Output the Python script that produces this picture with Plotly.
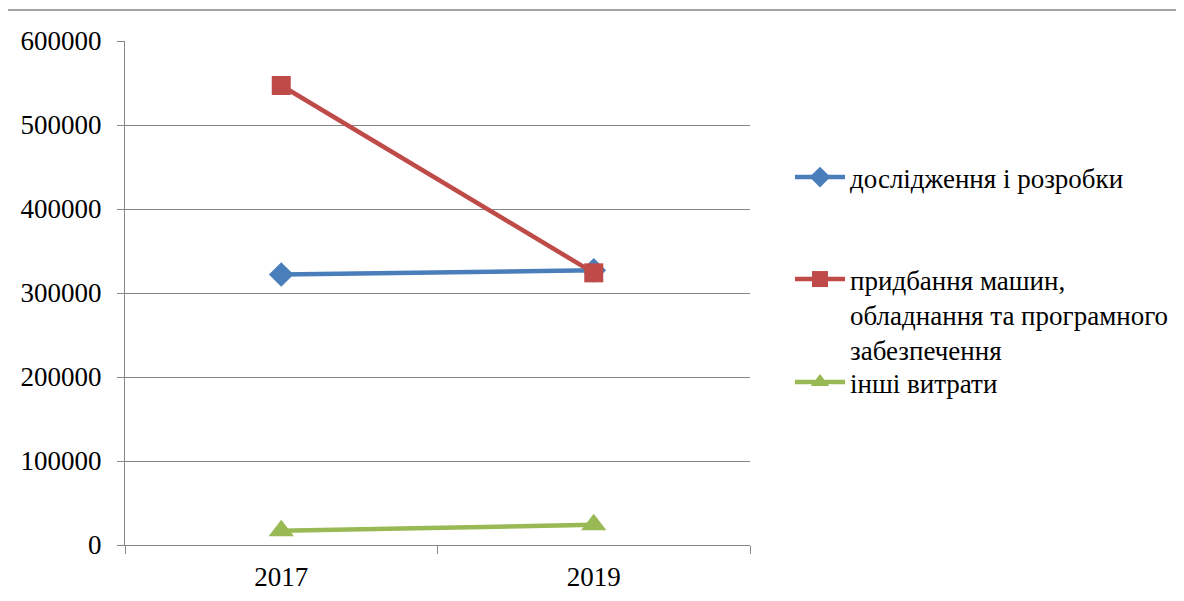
import plotly.graph_objects as go

years = ["2017", "2019"]
rnd = [322000, 327000]
equipment = [547000, 324000]
other = [17000, 24000]

names = ["дослідження і розробки",
         "придбання машин,<br>обладнання та програмного<br>забезпечення",
         "інші витрати"]
colors = ["#4A7EBB", "#BE4B48", "#98B954"]
symbols = ["diamond", "square", "triangle-up"]
sizes = [19, 19, 22]
series = [rnd, equipment, other]

OFF = 8  # page body margin
W, H = 1184, 601
L, R, T, B = 125 - OFF, 750 - OFF, 41 - OFF, 545 - OFF
pw, ph = R - L, B - T
def px(x): return (x - OFF - L) / pw
def py(y): return (B - (y - OFF)) / ph

fig = go.Figure()
legend_names = ["legend", "legend2", "legend3"]
legend_y = [178, 280, 383]
for i in range(3):
    fig.add_trace(go.Scatter(
        x=years, y=series[i], name=names[i], mode="lines+markers",
        line=dict(color=colors[i], width=4.5),
        marker=dict(symbol=symbols[i], size=sizes[i], color=colors[i]),
        legend=legend_names[i], cliponaxis=False))

font = "Liberation Serif"
FS = 27
lay = {}
for i in range(3):
    lay[legend_names[i]] = dict(
        font=dict(family=font, size=FS, color="#000000"),
        bgcolor="rgba(0,0,0,0)", valign="top",
        xanchor="left", yanchor="top", itemwidth=50,
        x=px(790), y=py(legend_y[i] - 25))

fig.update_layout(
    width=W, height=H,
    margin=dict(l=L, r=W - R, t=T, b=H - B),
    plot_bgcolor="white", paper_bgcolor="white",
    font=dict(family=font, size=FS, color="#000000"),
    showlegend=True,
    xaxis=dict(type="category", tickson="boundaries", ticks="outside", ticklen=8,
               tickcolor="#868686", showline=True, linecolor="#868686", linewidth=1,
               showgrid=False, tickfont=dict(family=font, size=FS), range=[-0.5, 1.5],
               ticklabelstandoff=8, fixedrange=True),
    yaxis=dict(range=[0, 600000], dtick=100000, ticks="outside", ticklen=7,
               tickcolor="#868686", showline=True, linecolor="#868686", linewidth=1,
               showgrid=True, gridcolor="#868686", gridwidth=1, zeroline=False,
               tickformat="d", tickfont=dict(family=font, size=FS),
               ticklabelstandoff=10),
    shapes=[
        dict(type="line", xref="paper", yref="paper", x0=px(5), x1=px(1200),
             y0=py(10), y1=py(10), line=dict(color="#868686", width=1.5)),
        dict(type="line", xref="paper", yref="paper", x0=px(5), x1=px(5),
             y0=py(10), y1=py(620), line=dict(color="#868686", width=1.5)),
    ],
    **lay,
)

fig.write_html("out.html")
